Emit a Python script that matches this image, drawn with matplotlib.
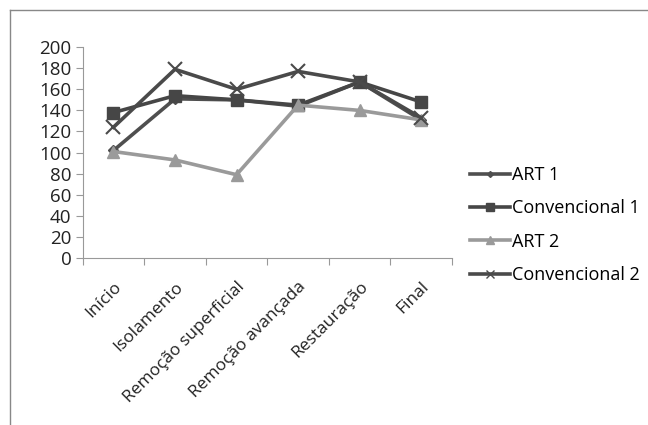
import matplotlib
matplotlib.use("Agg")
from matplotlib import pyplot as plt
from matplotlib.lines import Line2D
import numpy as np

plt.rcParams['font.family'] = ['Open Sans', 'DejaVu Sans']

stages = ["Início", "Isolamento", "Remoção superficial", "Remoção avançada",
          "Restauração", "Final"]
art1 = [102, 151, 150, 144, 167, 131]
conv1 = [138, 154, 150, 145, 167, 148]
art2 = [101, 93, 79, 145, 140, 131]
conv2 = [124, 179, 160, 177, 167, 133]

series = [
    ("ART 1", art1, "#4f4f4f", "D", 5),
    ("Convencional 1", conv1, "#464646", "s", 9),
    ("ART 2", art2, "#9a9a9a", "^", 9),
    ("Convencional 2", conv2, "#4a4a4a", "x", 10),
]

fig = plt.figure(figsize=(6.48, 4.25), dpi=100)
ax = fig.add_axes([0.1276, 0.393, 0.5699, 0.496])

x = np.arange(len(stages))
handles = []
for name, vals, col, mk, ms in series:
    ax.plot(x, vals, color=col, linewidth=2.6, marker=mk, markersize=ms,
            markeredgecolor=col, markeredgewidth=1.5 if mk == "x" else 1)
    handles.append(Line2D([0], [0], color=col, linewidth=2.6, marker=mk,
                          markersize=ms * 0.6, markeredgecolor=col))

ax.set_xlim(-0.5, len(stages) - 0.5)
ax.set_ylim(0, 200)
ax.set_yticks(range(0, 201, 20))
ax.set_xticks(np.arange(-0.5, len(stages), 1.0))
ax.set_xticklabels([])
ax.set_xticks(x, minor=True)
ax.set_xticklabels(stages, minor=True, rotation=45, ha='right',
                   rotation_mode='anchor', fontsize=12.5, color="#222222")
ax.tick_params(axis='x', which='minor', length=0, pad=15)
ax.tick_params(axis='x', which='major', length=5, color="#999999")
ax.tick_params(axis='y', length=5, color="#999999", labelsize=13.5,
               labelcolor="#222222", pad=3)

for s in ['top', 'right']:
    ax.spines[s].set_visible(False)
for s in ['left', 'bottom']:
    ax.spines[s].set_color("#999999")

fig.legend(handles=handles, labels=[s[0] for s in series],
           loc='upper left', bbox_to_anchor=(0.701, 0.648), frameon=False,
           fontsize=13, handlelength=2.2, handletextpad=0.1,
           labelspacing=0.85)

# outer frame lines
fig.add_artist(Line2D([0.016, 1.0], [0.977, 0.977], color="#888888", linewidth=1))
fig.add_artist(Line2D([0.016, 0.016], [0.0, 0.977], color="#888888", linewidth=1))

fig.savefig("out.png", dpi=100)
